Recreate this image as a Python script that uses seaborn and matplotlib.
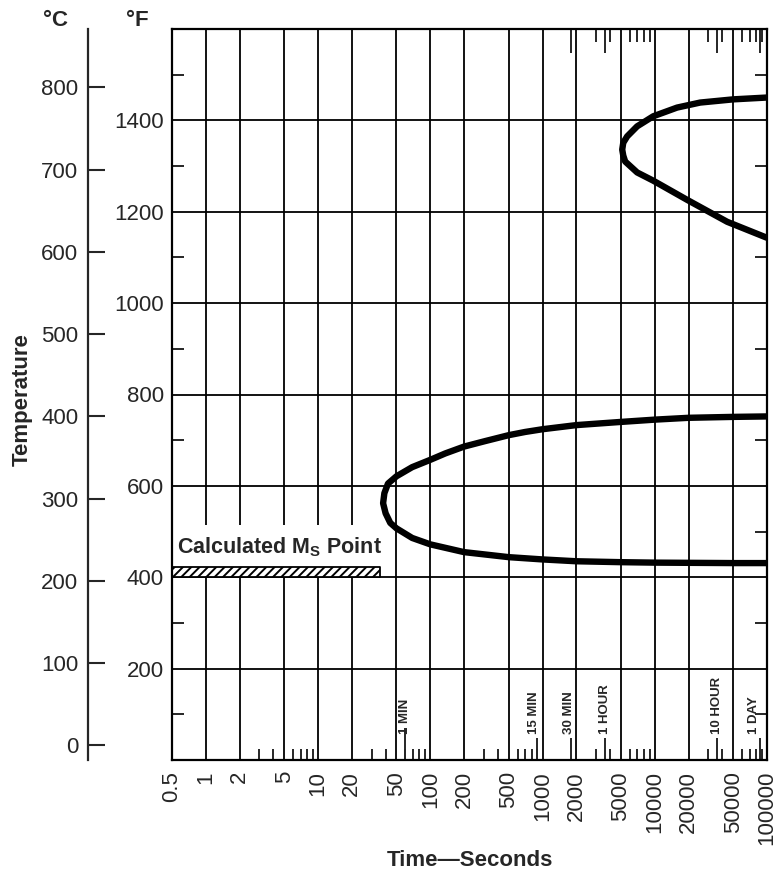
import numpy as np
import pandas as pd
import matplotlib
matplotlib.use("Agg")
import matplotlib.pyplot as plt
import matplotlib.transforms as mtransforms
import seaborn as sns

# ---------------- data ----------------
time_ticks = [0.5, 1, 2, 5, 10, 20, 50, 100, 200, 500, 1000, 2000, 5000,
              10000, 20000, 50000, 100000]
time_labels = ["0.5", "1", "2", "5", "10", "20", "50", "100", "200", "500",
               "1000", "2000", "5000", "10000", "20000", "50000", "100000"]
temp_f_ticks = [200, 400, 600, 800, 1000, 1200, 1400]
temp_c_ticks = [0, 100, 200, 300, 400, 500, 600, 700, 800]

# lower C-curve (upper branch from right to nose, then lower branch to right)
lower_time = [100000, 50000, 20000, 10000, 5000, 2000, 1000, 700, 500, 308,
              200, 136, 100, 69, 50, 42, 39, 38, 40, 44, 50, 69, 100, 200,
              500, 1000, 2000, 5000, 10000, 50000, 100000]
lower_temp = [752, 751, 749, 745, 740, 733, 724, 718, 711, 698,
              686, 671, 657, 641, 621, 605, 584, 562, 540, 519, 507, 486, 472,
              455, 444, 439, 435, 433, 432, 431, 431]

# upper C-curve
upper_time = [100000, 50000, 25400, 15800, 9700, 6970, 5680, 5240, 5130,
              5240, 5450, 6970, 9700, 19450, 44200, 100000]
upper_temp = [1450, 1446, 1439, 1428, 1409, 1387, 1365, 1351, 1336,
              1323, 1310, 1286, 1268, 1226, 1178, 1143]

# calculated Ms point band
ms_time = [0.5, 36]
ms_low = 400
ms_high = 422
ms_label = r"Calculated M$_\mathregular{S}$ Point"

# time marks
mark_times = [60, 900, 1800, 3600, 36000, 86400]
mark_labels = ["1 MIN", "15 MIN", "30 MIN", "1 HOUR", "10 HOUR", "1 DAY"]
mark_dx = [0, -3, -2, 0, 0, -6]   # small horizontal label shifts (px)
top_marks = [1800, 3600, 36000, 86400]
top_minor = [3000, 4000, 6000, 7000, 8000, 9000,
             30000, 40000, 60000, 70000, 80000, 90000]
minor_subs = [3, 4, 6, 7, 8, 9]

# ---------------- style ----------------
sns.set_style("white")
plt.rcParams["font.family"] = ["Liberation Sans", "DejaVu Sans"]
plt.rcParams["hatch.linewidth"] = 1.4
plt.rcParams["axes.linewidth"] = 1.6

fig = plt.figure(figsize=(7.78, 8.75), dpi=100)
ax = fig.add_axes([172 / 778, 1 - 760 / 875, 595 / 778, 731 / 875])

df = pd.concat([
    pd.DataFrame({"time": lower_time, "temp": lower_temp, "curve": "lower"}),
    pd.DataFrame({"time": upper_time, "temp": upper_temp, "curve": "upper"}),
], ignore_index=True)

sns.lineplot(data=df, x="time", y="temp", units="curve", estimator=None,
             sort=False, color="black", lw=4.6, ax=ax, zorder=4,
             solid_capstyle="butt", solid_joinstyle="round")

ax.set_xscale("log")
ax.set_xlim(0.5, 100000)
ax.set_ylim(0, 1600)

# grid
ax.set_xticks(time_ticks)
ax.set_xticklabels(time_labels, rotation=90)
ax.set_yticks(temp_f_ticks)
ax.grid(True, which="major", color="black", lw=1.3)
ax.set_axisbelow(True)

minor_x = [s * 10 ** k for k in range(0, 5) for s in minor_subs]
ax.xaxis.set_minor_locator(matplotlib.ticker.FixedLocator(minor_x))
ax.xaxis.set_minor_formatter(matplotlib.ticker.NullFormatter())
ax.yaxis.set_minor_locator(matplotlib.ticker.MultipleLocator(200, offset=100))

ax.tick_params(axis="x", which="major", length=0, pad=8, labelsize=16)
ax.tick_params(axis="x", which="minor", direction="in", length=8, width=1.4,
               bottom=True, top=False)
ax.tick_params(axis="y", which="major", length=0, pad=6, labelsize=16)
ax.tick_params(axis="y", which="minor", direction="in", length=8.5, width=1.4,
               left=True, right=True)
ax.set_xlabel("")
ax.set_ylabel("")
for s in ax.spines.values():
    s.set_color("black")
    s.set_linewidth(1.6)

# bottom tall time marks
secb = ax.secondary_xaxis("bottom")
secb.set_xticks(mark_times[1:], labels=[""] * len(mark_times[1:]))
secb.xaxis.set_minor_locator(matplotlib.ticker.NullLocator())
secb.tick_params(direction="in", length=15.5, width=1.4)
secb.spines["bottom"].set_visible(False)

secb2 = ax.secondary_xaxis("bottom")
secb2.set_xticks(mark_times[:1], labels=[""])
secb2.xaxis.set_minor_locator(matplotlib.ticker.NullLocator())
secb2.tick_params(direction="in", length=23, width=1.4)
secb2.spines["bottom"].set_visible(False)

# top ticks
sect = ax.secondary_xaxis("top")
sect.set_xticks(top_marks, labels=[""] * len(top_marks))
sect.xaxis.set_minor_locator(matplotlib.ticker.FixedLocator(top_minor))
sect.xaxis.set_minor_formatter(matplotlib.ticker.NullFormatter())
sect.tick_params(which="major", direction="in", length=17, width=1.4)
sect.tick_params(which="minor", direction="in", length=9.5, width=1.4)
sect.spines["top"].set_visible(False)

for t, lab, dx in zip(mark_times, mark_labels, mark_dx):
    tr = mtransforms.offset_copy(ax.get_xaxis_transform(), fig=fig,
                                 x=dx, y=0, units="dots")
    ax.text(t, 0.036, lab, rotation=90, ha="center", va="bottom",
            fontsize=9.5, fontweight="bold", transform=tr, zorder=5)

# Ms band
ax.fill_between(ms_time, ms_high, 515, color="white", lw=0, zorder=1)
ax.fill_between(ms_time, ms_low, ms_high, facecolor="white", edgecolor="black",
                hatch="////", lw=1.3, zorder=2)
ax.text(0.55, 466, ms_label, fontsize=15.5, fontweight="bold",
        ha="left", va="center", zorder=5)

# Celsius axis
def f2c(f):
    return (np.asarray(f) - 32) * 5 / 9

def c2f(c):
    return np.asarray(c) * 9 / 5 + 32

secy = ax.secondary_yaxis(-84 / 595, functions=(f2c, c2f))
secy.set_yticks(temp_c_ticks)
secy.tick_params(direction="in", length=12, width=1.5, pad=7, labelsize=16)
secy.spines["left"].set_linewidth(1.6)

# labels
fig.text(55 / 778, 1 - 21 / 875, "°C", fontsize=16, fontweight="bold",
         ha="center", va="center")
fig.text(137 / 778, 1 - 21 / 875, "°F", fontsize=16, fontweight="bold",
         ha="center", va="center")
fig.text(22 / 778, 1 - 400 / 875, "Temperature", fontsize=16,
         fontweight="bold", rotation=90, ha="center", va="center")
fig.text(470 / 778, 1 - 860 / 875, "Time—Seconds", fontsize=16,
         fontweight="bold", ha="center", va="center")

fig.savefig("out.png", dpi=100)
